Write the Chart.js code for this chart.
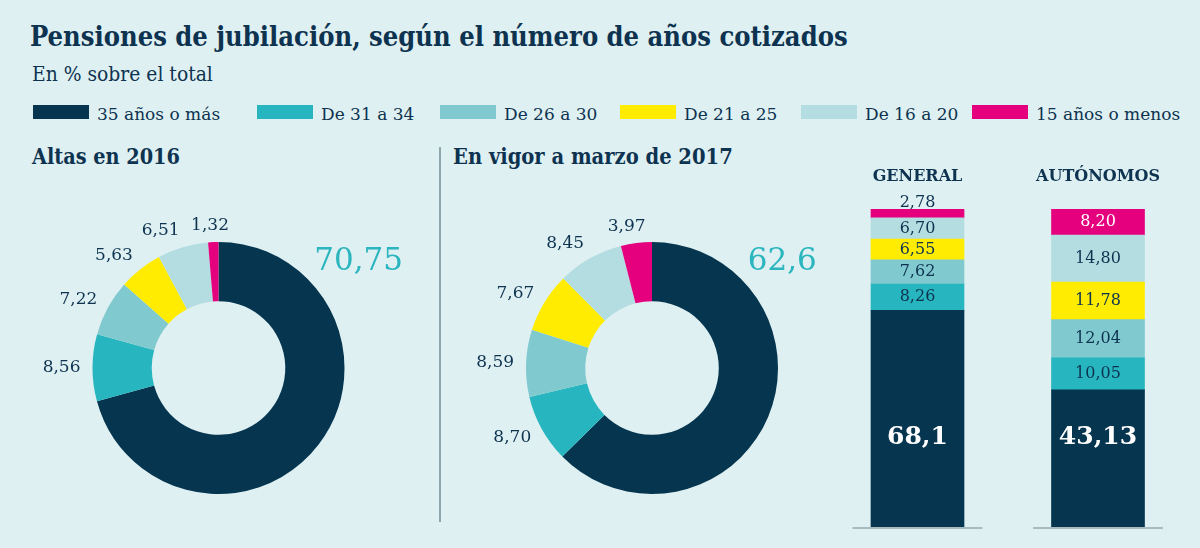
<!DOCTYPE html>
<html>
<head>
<meta charset="utf-8">
<script src="https://cdn.jsdelivr.net/npm/chart.js@4.4.1/dist/chart.umd.min.js"></script>
<style>
  body { margin: 0; background: #dff0f2; }
  #wrap { position: relative; width: 1200px; height: 548px; overflow: hidden; background: #dff0f2;
          font-family: "DejaVu Serif", serif; color: #0d3350; }
  .t { position: absolute; white-space: nowrap; line-height: 1; }
  .cond { font-family: "DejaVu Serif Condensed", "DejaVu Serif", serif; font-stretch: condensed; }
  .sw { position: absolute; top: 105px; width: 56px; height: 14px; }
  canvas { position: absolute; }
  #divider { position: absolute; left: 439px; top: 147px; width: 2px; height: 375px; background: #8fa6ad; }
</style>
</head>
<body>
<div id="wrap">
  <div class="t cond" id="title" style="font-weight:bold;font-size:22px">Pensiones de jubilación, según el número de años cotizados</div>
  <div class="t cond" id="subtitle" style="font-size:19px">En % sobre el total</div>
  <div id="legend"></div>
  <div class="t cond" id="h1" style="font-weight:bold;font-size:20px">Altas en 2016</div>
  <div class="t cond" id="h2" style="font-weight:bold;font-size:20px">En vigor a marzo de 2017</div>
  <div id="divider"></div>
  <canvas id="donut1" width="438" height="358" style="left:0;top:190px"></canvas>
  <canvas id="donut2" width="400" height="358" style="left:440px;top:190px"></canvas>
  <canvas id="bars" width="380" height="398" style="left:820px;top:150px"></canvas>
</div>
<script>
// Data
const tramos = ['35 años o más', 'De 31 a 34', 'De 26 a 30', 'De 21 a 25', 'De 16 a 20', '15 años o menos'];
const altas2016 = [70.75, 8.56, 7.22, 5.63, 6.51, 1.32];
const vigor2017 = [62.6, 8.70, 8.59, 7.67, 8.45, 3.97];
const regimenes = ['GENERAL', 'AUTÓNOMOS'];
const general = [68.1, 8.26, 7.62, 6.55, 6.70, 2.78];
const autonomos = [43.13, 10.05, 12.04, 11.78, 14.80, 8.20];

const colors = ['#05354f', '#27b6bf', '#80c9ce', '#ffec00', '#b3dde1', '#e5007d'];
const ink = '#0d3350';
const FONT = '"DejaVu Serif", serif';

function fmt(v, i){ return (i === 0 ? String(v) : v.toFixed(2)).replace('.', ','); }

// Text placement (by baseline), optionally fitting a width
function place(el, x, base, w){
  el.style.left = x + 'px';
  if (w) {
    const fs = parseFloat(getComputedStyle(el).fontSize);
    const cw = el.getBoundingClientRect().width;
    el.style.fontSize = (fs * w / cw) + 'px';
  }
  const fs = parseFloat(getComputedStyle(el).fontSize);
  el.style.top = (base - 0.846 * fs) + 'px';
}
place(document.getElementById('title'), 30, 46, 818);
place(document.getElementById('subtitle'), 32, 82, 181);
place(document.getElementById('h1'), 32, 164, 148);
place(document.getElementById('h2'), 453, 164, 280);

// Legend
const legendX = [33, 257, 440, 620, 801, 972];
const legend = document.getElementById('legend');
tramos.forEach((name, i) => {
  const sw = document.createElement('div');
  sw.className = 'sw'; sw.style.left = legendX[i] + 'px'; sw.style.background = colors[i];
  legend.appendChild(sw);
  const tx = document.createElement('div');
  tx.className = 't'; tx.textContent = name; tx.style.fontSize = '17px';
  legend.appendChild(tx);
  place(tx, legendX[i] + 64, 120);
});

// Donut labels
const donutLabels = {
  id: 'donutLabels',
  afterDatasetsDraw(chart){
    const ctx = chart.ctx;
    const data = chart.data.datasets[0].data;
    chart.getDatasetMeta(0).data.forEach((arc, i) => {
      const p = arc.getProps(['x', 'y', 'startAngle', 'endAngle', 'outerRadius'], true);
      ctx.save();
      if (i === 0) {
        ctx.font = '31px ' + FONT;
        ctx.fillStyle = '#2ab5bf';
        ctx.textAlign = 'left'; ctx.textBaseline = 'alphabetic';
        ctx.fillText(fmt(data[0], 0), p.x + p.outerRadius * 0.76, p.y - p.outerRadius * 0.78);
      } else {
        const mid = (p.startAngle + p.endAngle) / 2;
        const c = Math.cos(mid), s = Math.sin(mid);
        const r = p.outerRadius + 12;
        const txt = fmt(data[i], i);
        ctx.font = '17px ' + FONT;
        const w = ctx.measureText(txt).width;
        const dx = Math.sign(c) * Math.min(1, Math.abs(c) * 3.5) * w / 2;
        ctx.fillStyle = ink;
        ctx.textAlign = 'center'; ctx.textBaseline = 'middle';
        ctx.fillText(txt, p.x + r * c + dx, p.y + r * s + 5 * s);
      }
      ctx.restore();
    });
  }
};

function donut(id, values, pad){
  new Chart(document.getElementById(id), {
    type: 'doughnut',
    data: { labels: tramos, datasets: [{ data: values, backgroundColor: colors, borderWidth: 0 }] },
    options: {
      responsive: false, animation: false, cutout: '53%',
      layout: { padding: pad },
      plugins: { legend: { display: false }, tooltip: { enabled: false } }
    },
    plugins: [donutLabels]
  });
}
donut('donut1', altas2016, { left: 92.5, right: 93.5, top: 52, bottom: 54 });
donut('donut2', vigor2017, { left: 86, right: 62, top: 52, bottom: 54 });

// Stacked bars
const barLabels = {
  id: 'barLabels',
  afterDatasetsDraw(chart){
    const ctx = chart.ctx;
    const area = chart.chartArea;
    const yScale = chart.scales.y;
    const xs = chart.getDatasetMeta(0).data.map(b => b.x);
    ctx.save();
    chart.data.labels.forEach((lab, j) => {
      ctx.strokeStyle = '#a7bbc0'; ctx.lineWidth = 2;
      ctx.beginPath(); ctx.moveTo(xs[j] - 65, area.bottom + 1); ctx.lineTo(xs[j] + 65, area.bottom + 1); ctx.stroke();
      ctx.font = 'bold 16px ' + FONT; ctx.fillStyle = ink;
      ctx.textAlign = 'center'; ctx.textBaseline = 'alphabetic';
      ctx.fillText(lab, xs[j], 31);
    });
    chart.data.datasets.forEach((ds, i) => {
      chart.getDatasetMeta(i).data.forEach((bar, j) => {
        const v = ds.data[j];
        const txt = fmt(v, i);
        ctx.textAlign = 'center';
        if (i === 0) {
          ctx.font = 'bold 25px ' + FONT; ctx.fillStyle = '#ffffff'; ctx.textBaseline = 'middle';
          ctx.fillText(txt, bar.x, yScale.getPixelForValue(28.3));
        } else if (bar.base - bar.y < 14) {
          ctx.font = '16px ' + FONT; ctx.fillStyle = ink; ctx.textBaseline = 'alphabetic';
          ctx.fillText(txt, bar.x, bar.y - 2);
        } else {
          ctx.font = '16px ' + FONT; ctx.textBaseline = 'middle';
          ctx.fillStyle = i === 5 ? '#ffffff' : ink;
          ctx.fillText(txt, bar.x, (bar.y + bar.base) / 2);
        }
      });
    });
    ctx.restore();
  }
};

new Chart(document.getElementById('bars'), {
  type: 'bar',
  data: {
    labels: regimenes,
    datasets: tramos.map((name, i) => ({
      label: name, data: [general[i], autonomos[i]], backgroundColor: colors[i], borderWidth: 0, barThickness: 93
    }))
  },
  options: {
    responsive: false, animation: false,
    layout: { padding: { left: 7.25, right: 11.75, top: 59, bottom: 21 } },
    scales: {
      x: { stacked: true, display: false },
      y: { stacked: true, display: false, min: 0, max: 100 }
    },
    plugins: { legend: { display: false }, tooltip: { enabled: false } }
  },
  plugins: [barLabels]
});
</script>
</body>
</html>
